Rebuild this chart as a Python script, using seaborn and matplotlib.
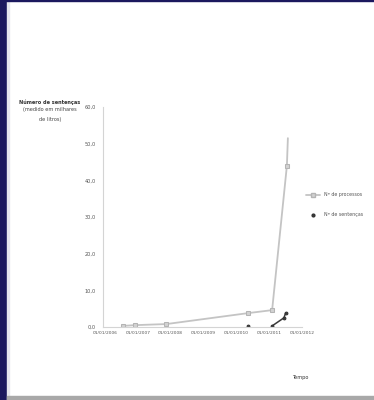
import matplotlib
matplotlib.use("Agg")
import matplotlib.pyplot as plt
import seaborn as sns
import pandas as pd
from matplotlib.lines import Line2D
from matplotlib.patches import Rectangle

sns.set_theme(style="white")
plt.rcParams["font.family"] = ["DejaVu Sans"]

# time positions (in period units) and values for each series
tempo_a = [0.54, 0.90, 1.87, 4.37, 5.09, 5.54, 5.57]
valores_a = [0.3, 0.5, 0.8, 3.8, 4.6, 44.0, 51.5]
tempo_b = [4.37, 5.09, 5.45, 5.50]
valores_b = [0.2, 0.3, 2.5, 3.8]
trecho_b = [0, 1, 1, 1]
periodos = ["01/01/2006", "01/01/2007", "01/01/2008", "01/01/2009",
            "01/01/2010", "01/01/2011", "01/01/2012"]
y_ticks = [0, 10, 20, 30, 40, 50, 60]
serie_a = "Nº de processos"
serie_b = "Nº de sentenças"

df_a = pd.DataFrame({"tempo": tempo_a, "valor": valores_a})
df_b = pd.DataFrame({"tempo": tempo_b, "valor": valores_b, "trecho": trecho_b})

fig = plt.figure(figsize=(3.74, 4.0), dpi=100)
fig.patch.set_facecolor("white")

# slide frame: dark left band, thin top border, grey bottom strip
fig.add_artist(Rectangle((0, 0), 7 / 374, 1, transform=fig.transFigure,
                         color="#1b185e", zorder=0))
fig.add_artist(Rectangle((7 / 374, 0), 2 / 374, 1, transform=fig.transFigure,
                         color="#e6e6ee", zorder=0))
fig.add_artist(Rectangle((0, 1 - 1 / 400), 1, 1 / 400, transform=fig.transFigure,
                         color="#1b185e", zorder=0))
fig.add_artist(Rectangle((7 / 374, 0), 1, 4 / 400, transform=fig.transFigure,
                         color="#a8a8a8", zorder=0))

ax = fig.add_axes([103 / 374, 1 - 327 / 400, 199 / 374, 220 / 400])
sns.lineplot(data=df_a, x="tempo", y="valor", ax=ax, color="#c4c4c4",
             linewidth=1.3, marker="s", markersize=3.2, markeredgecolor="#b4b4b4",
             markerfacecolor="#d2d2d2", sort=False, markevery=[0, 1, 2, 3, 4, 5])
sns.lineplot(data=df_b, x="tempo", y="valor", ax=ax, color="#3a3a3a",
             units="trecho", estimator=None,
             linewidth=1.1, marker="o", markersize=2.0, markeredgecolor="#333333",
             sort=False)

ax.set_xlim(-0.06, 5.93)
ax.set_ylim(0, 60)
ax.set_yticks(y_ticks)
ax.set_yticklabels([f"{v:.1f}".replace(".", ",") for v in y_ticks],
                   fontsize=3.6, color="#555555")
ax.set_xticks(range(len(periodos)))
ax.set_xticklabels(periodos, fontsize=3.2, color="#555555")
ax.tick_params(axis="y", length=2, width=0.5, color="#c8c8c8", pad=3)
ax.tick_params(axis="x", length=0, pad=3)
for side in ("top", "right"):
    ax.spines[side].set_visible(False)
for side in ("left", "bottom"):
    ax.spines[side].set_color("#d4d4d4")
    ax.spines[side].set_linewidth(0.8)
ax.set_xlabel("")
ax.set_ylabel("")

handles = [
    Line2D([], [], color="#c4c4c4", linewidth=1.3, marker="s", markersize=3.2,
           markeredgecolor="#b4b4b4", markerfacecolor="#d2d2d2"),
    Line2D([], [], color="#3a3a3a", linestyle="none", marker="o", markersize=2.0,
           markeredgecolor="#333333"),
]
ax.legend(handles, [serie_a, serie_b], loc="center left",
          bbox_to_anchor=(1.0, 0.555), frameon=False, fontsize=3.4,
          handlelength=3, labelspacing=3.2, labelcolor="#555555")

fig.text(50 / 374, 1 - 102 / 400, "Número de sentenças", fontsize=3.6,
         ha="center", va="center", color="#333333", fontweight="bold")
fig.text(50 / 374, 1 - 107.5 / 400, "(medido em milhares\nde litros)", fontsize=3.6,
         ha="center", va="top", color="#444444", linespacing=2.0)
fig.text(300 / 374, 1 - 378 / 400, "Tempo", fontsize=3.6, ha="center",
         va="center", color="#333333")

fig.savefig("out.png", dpi=100)
